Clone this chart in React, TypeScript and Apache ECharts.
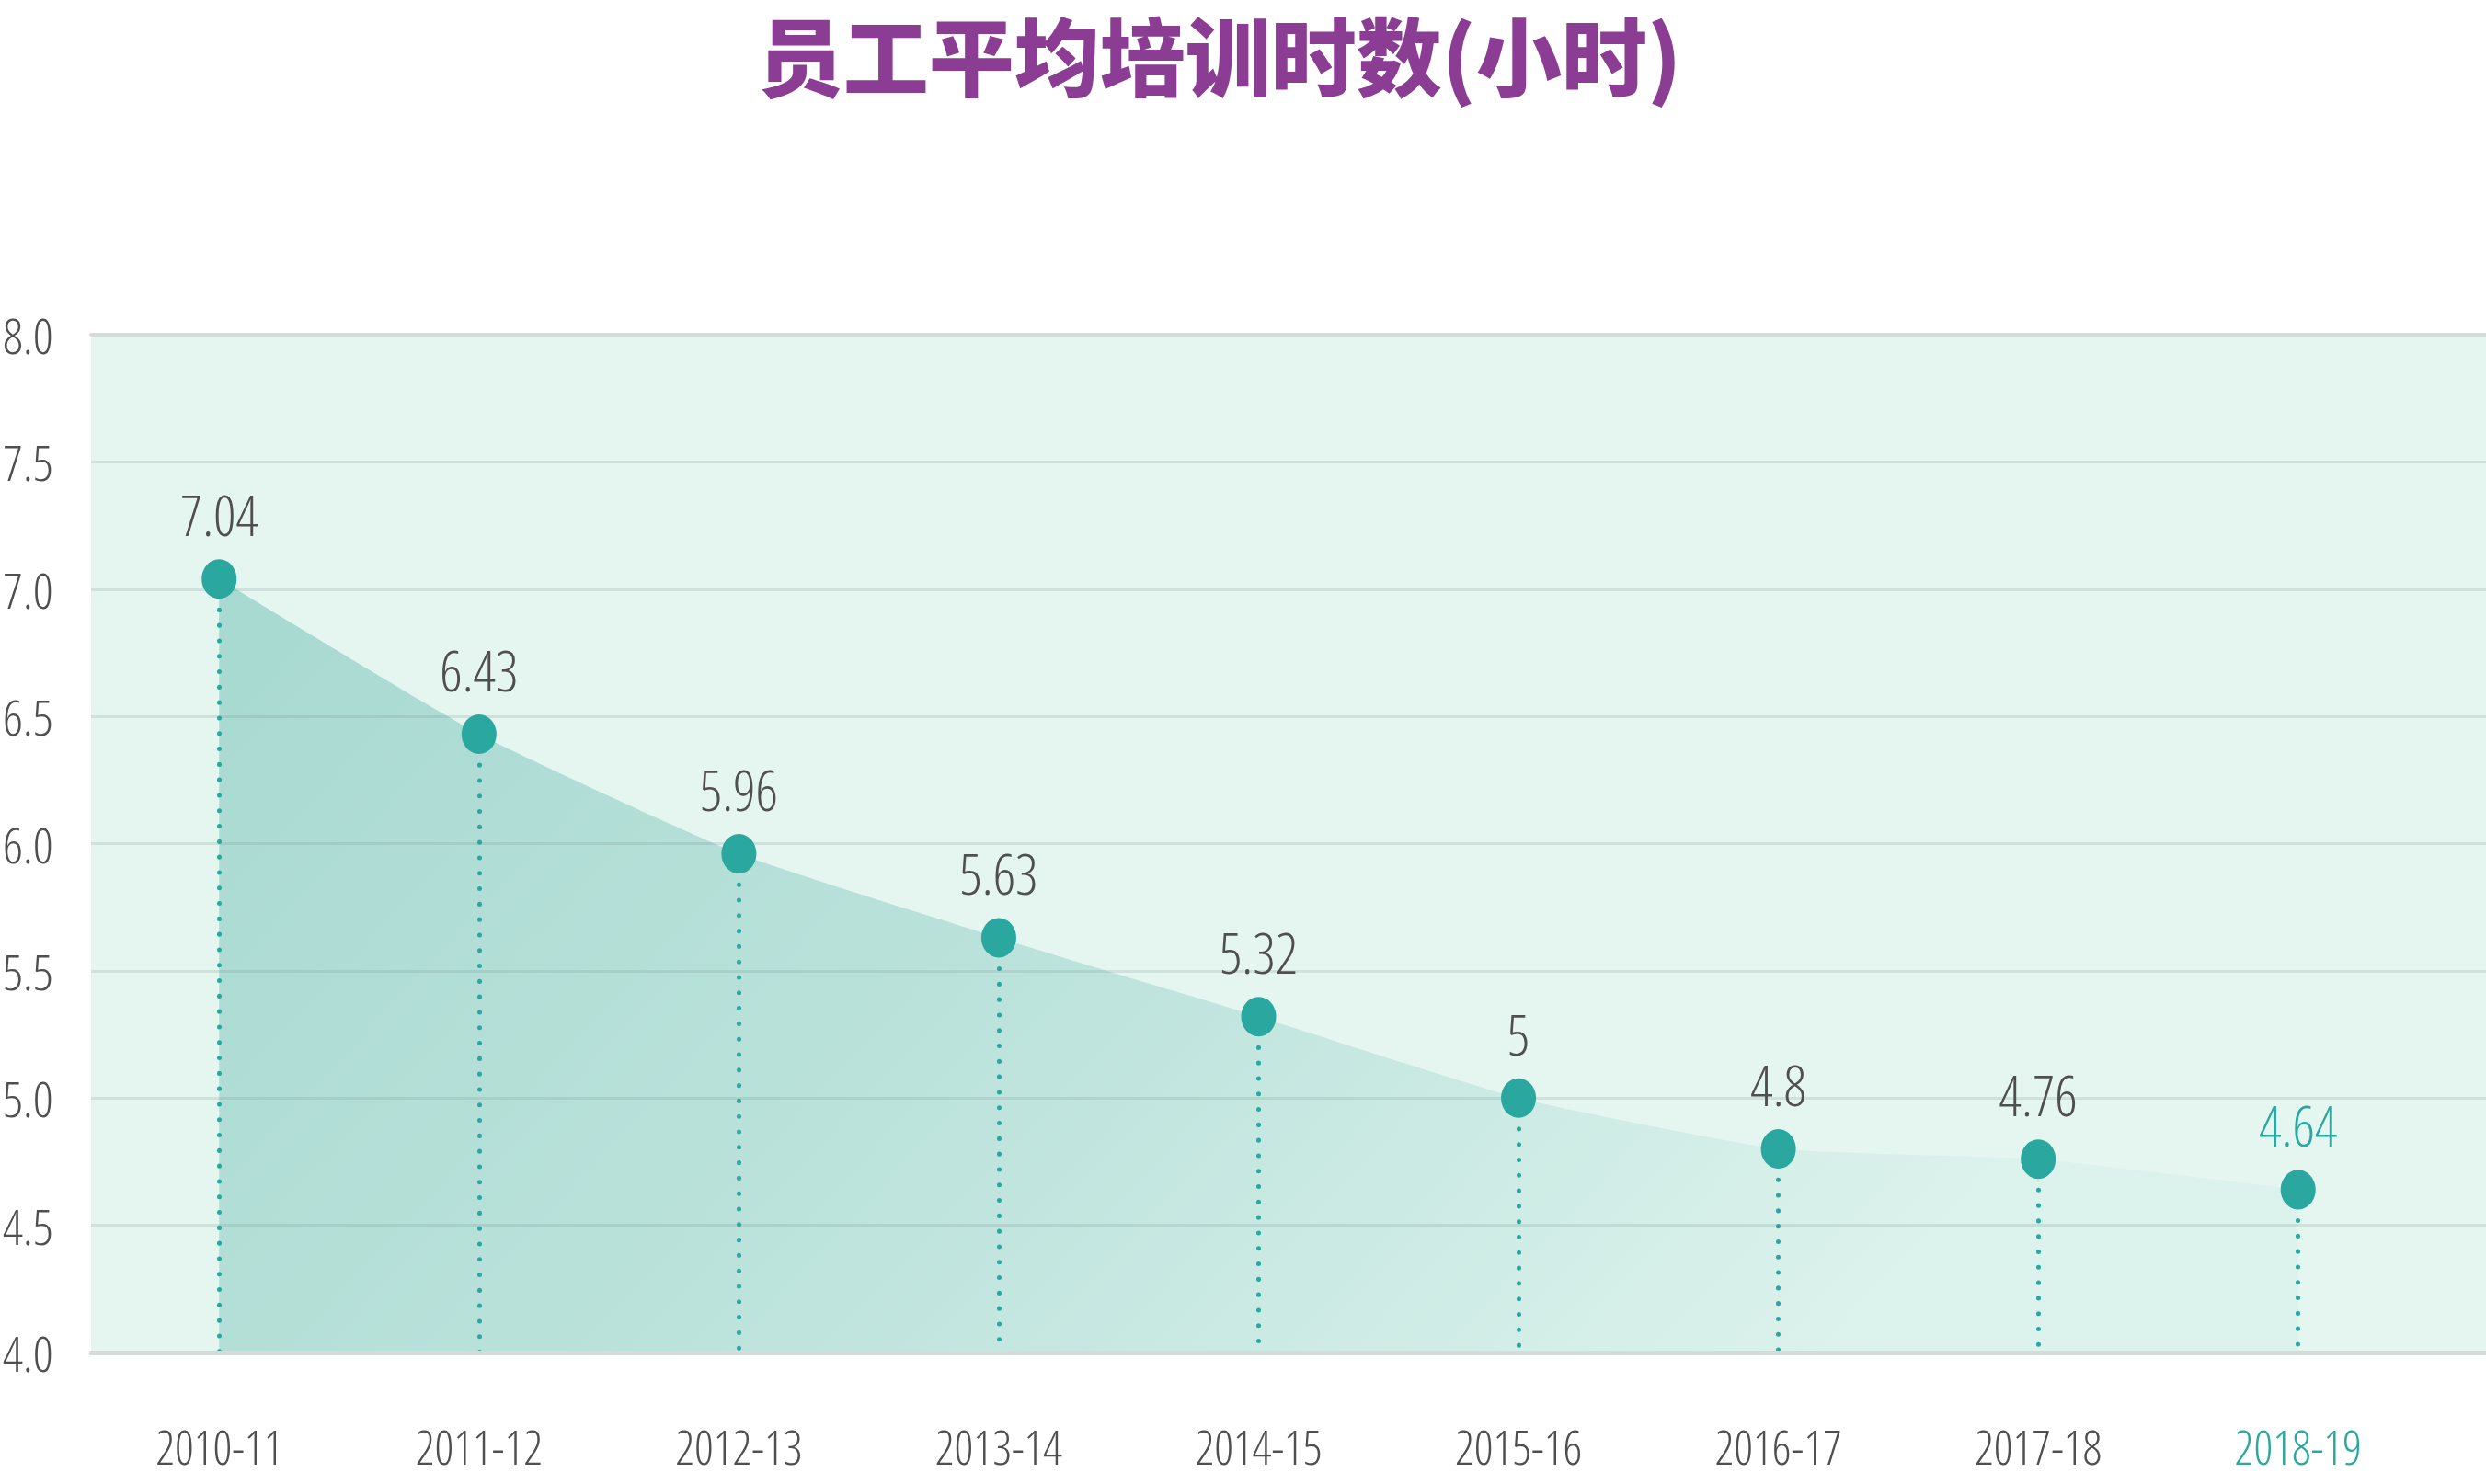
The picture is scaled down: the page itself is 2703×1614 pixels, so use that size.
import React, { useEffect, useRef } from 'react';
import * as echarts from 'echarts';

const titleText = '员工平均培训时数(小时)';
const categories = ['2010-11', '2011-12', '2012-13', '2013-14', '2014-15', '2015-16', '2016-17', '2017-18', '2018-19'];
const hours = [7.04, 6.43, 5.96, 5.63, 5.32, 5, 4.8, 4.76, 4.64];
const yMin = 4;
const yMax = 8;
const yStep = 0.5;
const highlightIndex = categories.length - 1;

const TEAL = '#2aa8a0';
const GREY = '#4f4f4f';
const NUM_FONT = "'Open Sans', 'Noto Sans', sans-serif";

export default function App() {
  const ref = useRef<HTMLDivElement>(null);

  useEffect(() => {
    if (!ref.current) return;
    const chart = echarts.init(ref.current, undefined, { renderer: 'svg' });

    const option: any = {
      animation: false,
      backgroundColor: '#ffffff',
      title: {
        text: titleText,
        left: 1321,
        top: 0,
        textAlign: 'center',
        textStyle: {
          fontFamily: "'Noto Sans CJK SC', sans-serif",
          fontWeight: 900,
          fontSize: 93,
          lineHeight: 104,
          color: '#8b3d93',
        },
      },
      grid: [
        { left: 97, right: 0, top: 364, bottom: 143, show: true, backgroundColor: '#e5f6f1', borderWidth: 0, z: 0 },
        { left: 97, right: 63, top: 364, bottom: 143, show: false },
      ],
      xAxis: [
        {
          gridIndex: 0, type: 'value', min: 0, max: 1, position: 'bottom', z: 3,
          axisLine: { show: true, onZero: false, lineStyle: { color: '#d5dbdb', width: 5 } },
          axisTick: { show: false }, axisLabel: { show: false }, splitLine: { show: false },
        },
        {
          gridIndex: 0, type: 'value', min: 0, max: 1, position: 'top', z: 3,
          axisLine: { show: true, onZero: false, lineStyle: { color: '#d5dbdb', width: 4 } },
          axisTick: { show: false }, axisLabel: { show: false }, splitLine: { show: false },
        },
        {
          gridIndex: 1, type: 'category', data: categories, boundaryGap: true, position: 'bottom',
          axisLine: { show: false }, axisTick: { show: false }, splitLine: { show: false },
          axisLabel: {
            margin: 76,
            fontSize: 51,
            fontWeight: 300,
            fontFamily: NUM_FONT,
            color: (_v: any, i: number) => (i === highlightIndex ? TEAL : GREY),
          },
        },
      ],
      yAxis: [
        {
          gridIndex: 0, type: 'value', min: yMin, max: yMax, interval: yStep, z: 2,
          axisLine: { show: false }, axisTick: { show: false },
          axisLabel: {
            align: 'left', margin: 96, fontSize: 54, fontWeight: 300, fontFamily: NUM_FONT, color: GREY,
            padding: [12, 0, 0, 0],
            formatter: (v: number) => v.toFixed(1),
          },
          splitLine: { show: true, lineStyle: { color: 'rgba(110,135,135,0.18)', width: 3 } },
        },
        { gridIndex: 1, type: 'value', min: yMin, max: yMax, interval: yStep, show: false },
      ],
      series: [
        {
          name: 'area', type: 'line', xAxisIndex: 2, yAxisIndex: 1, data: hours,
          symbol: 'none', smooth: 0.15, silent: true, z: 1,
          lineStyle: { width: 0, opacity: 0 },
          areaStyle: {
            origin: 'start',
            color: {
              type: 'linear', x: 0, y: 0, x2: 1, y2: 0.35,
              colorStops: [
                { offset: 0, color: '#8dcdc3' },
                { offset: 0.5, color: '#a9dad2' },
                { offset: 1, color: '#d8f0ea' },
              ],
            },
          },
        },
        {
          name: 'stems', type: 'line', xAxisIndex: 2, yAxisIndex: 1, data: hours,
          symbol: 'none', silent: true, z: 3, lineStyle: { width: 0, opacity: 0 },
          markLine: {
            silent: true, z: 3, symbol: ['none', 'none'], label: { show: false },
            lineStyle: { color: TEAL, width: 5, type: [0.1, 16.7], cap: 'round' },
            emphasis: { disabled: true },
            data: hours.map((v, i) => [
              { coord: [categories[i], v] },
              { coord: [categories[i], yMin] },
            ]),
          },
        },
        {
          name: 'points', type: 'line', xAxisIndex: 2, yAxisIndex: 1, z: 4,
          symbol: 'circle', symbolSize: [38, 43], smooth: 0.15,
          lineStyle: { width: 0, opacity: 0 },
          itemStyle: { color: TEAL },
          label: {
            show: true, position: 'top', distance: 18, fontSize: 60, fontWeight: 300, fontFamily: NUM_FONT, color: GREY,
          },
          data: hours.map((v, i) => (i === highlightIndex ? { value: v, label: { color: TEAL } } : v)),
        },
      ],
    };

    chart.setOption(option);
    return () => chart.dispose();
  }, []);

  return (
    <>
      <style>{'#chart-box svg text { font-stretch: 75% !important; }'}</style>
      <div id="chart-box" ref={ref} style={{ position: 'fixed', left: 0, top: 0, width: 2703, height: 1614 }} />
    </>
  );
}
